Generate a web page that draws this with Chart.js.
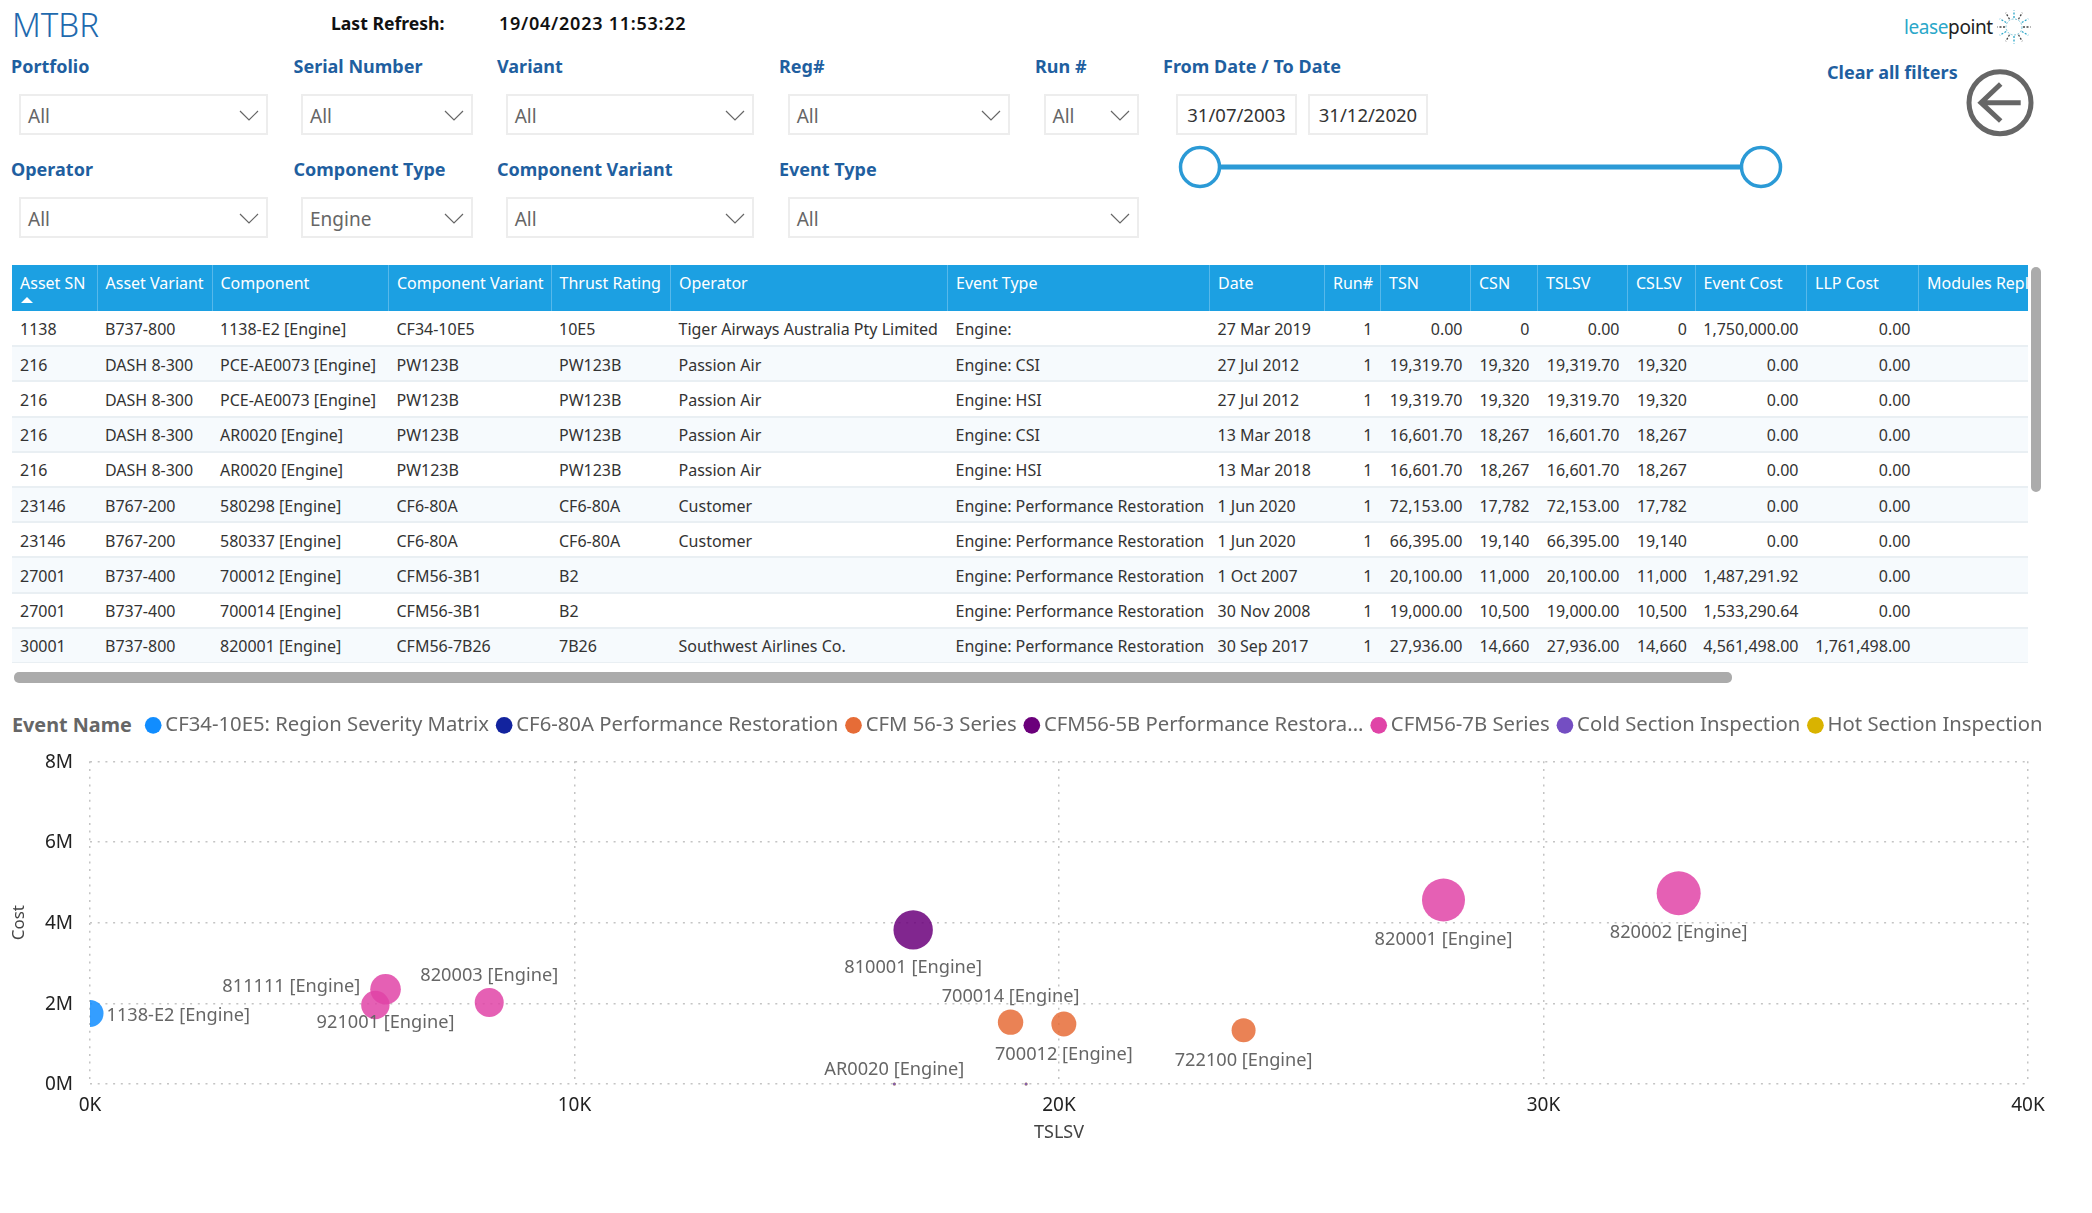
<!DOCTYPE html>
<html><head><meta charset="utf-8">
<style>
html,body{margin:0;padding:0;background:#fff;width:2092px;height:1213px;overflow:hidden;font-family:"Noto Sans",sans-serif}
.a{position:absolute;white-space:nowrap}
.lab{font-weight:700;font-size:18px;color:#1F5FA0;line-height:24px;transform:translateY(-12px)}
.box{box-sizing:border-box;border:2px solid #EDEDED;background:#fff;color:#666;font-size:19px;line-height:40px;padding-left:7px}
.box svg{position:absolute;right:7px;top:14px}
.wrap{position:absolute;left:12px;top:265px;width:2016px;height:398px;overflow:hidden}
table{border-collapse:collapse;table-layout:fixed;position:absolute;left:0;top:0;width:2026px;font-size:16px;color:#333}
th{background:#1CA0E2;color:#fff;font-weight:400;height:46px;box-sizing:border-box;padding:0 8px 10px;text-align:left;border-right:1px solid #57B8EA;overflow:hidden;white-space:nowrap}
th.r{text-align:right;padding-right:10px}
td{box-sizing:border-box;padding:2px 8px 0;height:35.2px;border-bottom:2px solid #E9EFF3;white-space:nowrap;overflow:hidden}
tr:nth-child(even) td{background:#F6FAFD}
td.r{text-align:right}
#cw{position:absolute;left:0;top:700px;width:2092px;height:513px}
canvas{display:block}
</style></head><body>
<div id="page"></div>
<div id="cw"><canvas id="c" width="2092" height="513" style="width:2092px;height:513px"></canvas></div>
<script src="https://cdn.jsdelivr.net/npm/chart.js@4"></script>
<script>
// --- chart data ---
const eventNames=["CF34-10E5: Region Severity Matrix","CF6-80A Performance Restoration","CFM 56-3 Series","CFM56-5B Performance Restora...","CFM56-7B Series","Cold Section Inspection","Hot Section Inspection"];
const eventColors=["#118DFF","#12239E","#E66C37","#6B007B","#E044A7","#744EC2","#D9B300"];
const tslsvCF34=[0];            const costCF34=[1750000];     const sizeCF34=[13.5];    const nameCF34=["1138-E2 [Engine]"];
const tslsvCF6=[72153,66395];   const costCF6=[0,0];          const sizeCF6=[1.5,1.5];  const nameCF6=["580298 [Engine]","580337 [Engine]"];
const tslsvCFM3=[19000,20100,23810]; const costCFM3=[1533290,1487292,1330000]; const sizeCFM3=[12.7,12.5,12]; const nameCFM3=["700014 [Engine]","700012 [Engine]","722100 [Engine]"];
const tslsvCFM5=[16990];        const costCFM5=[3820000];     const sizeCFM5=[19.7];    const nameCFM5=["810001 [Engine]"];
const tslsvCFM7=[6100,5890,8240,27936,32790]; const costCFM7=[2350000,1960000,2020000,4561498,4730000]; const sizeCFM7=[15.3,14.2,14.5,21.5,22];
const nameCFM7=["921001 [Engine]","811111 [Engine]","820003 [Engine]","820001 [Engine]","820002 [Engine]"];
const tslsvCold=[19319.7,16601.7]; const costCold=[0,0];      const sizeCold=[1.5,1.5]; const nameCold=["",""];
const tslsvHot=[19319.7,16601.7];  const costHot=[0,0];       const sizeHot=[1.5,1.5];  const nameHot=["","AR0020 [Engine]"];
const xTicks=[0,10000,20000,30000,40000];
const yTicks=[0,2000000,4000000,6000000,8000000];
// label placement by point name: side of the bubble the label sits on
const labelSide={"1138-E2 [Engine]":"right","811111 [Engine]":"left","921001 [Engine]":"below","820003 [Engine]":"above","810001 [Engine]":"below","700014 [Engine]":"above","700012 [Engine]":"below","722100 [Engine]":"below","820001 [Engine]":"below","820002 [Engine]":"below","AR0020 [Engine]":"above"};

// --- table data ---
const tableHead=["Asset SN","Asset Variant","Component","Component Variant","Thrust Rating","Operator","Event Type","Date","Run#","TSN","CSN","TSLSV","CSLSV","Event Cost","LLP Cost","Modules Replaced"];
const tableRows=[
["1138","B737-800","1138-E2 [Engine]","CF34-10E5","10E5","Tiger Airways Australia Pty Limited","Engine:","27 Mar 2019","1","0.00","0","0.00","0","1,750,000.00","0.00",""],
["216","DASH 8-300","PCE-AE0073 [Engine]","PW123B","PW123B","Passion Air","Engine: CSI","27 Jul 2012","1","19,319.70","19,320","19,319.70","19,320","0.00","0.00",""],
["216","DASH 8-300","PCE-AE0073 [Engine]","PW123B","PW123B","Passion Air","Engine: HSI","27 Jul 2012","1","19,319.70","19,320","19,319.70","19,320","0.00","0.00",""],
["216","DASH 8-300","AR0020 [Engine]","PW123B","PW123B","Passion Air","Engine: CSI","13 Mar 2018","1","16,601.70","18,267","16,601.70","18,267","0.00","0.00",""],
["216","DASH 8-300","AR0020 [Engine]","PW123B","PW123B","Passion Air","Engine: HSI","13 Mar 2018","1","16,601.70","18,267","16,601.70","18,267","0.00","0.00",""],
["23146","B767-200","580298 [Engine]","CF6-80A","CF6-80A","Customer","Engine: Performance Restoration","1 Jun 2020","1","72,153.00","17,782","72,153.00","17,782","0.00","0.00",""],
["23146","B767-200","580337 [Engine]","CF6-80A","CF6-80A","Customer","Engine: Performance Restoration","1 Jun 2020","1","66,395.00","19,140","66,395.00","19,140","0.00","0.00",""],
["27001","B737-400","700012 [Engine]","CFM56-3B1","B2","","Engine: Performance Restoration","1 Oct 2007","1","20,100.00","11,000","20,100.00","11,000","1,487,291.92","0.00",""],
["27001","B737-400","700014 [Engine]","CFM56-3B1","B2","","Engine: Performance Restoration","30 Nov 2008","1","19,000.00","10,500","19,000.00","10,500","1,533,290.64","0.00",""],
["30001","B737-800","820001 [Engine]","CFM56-7B26","7B26","Southwest Airlines Co.","Engine: Performance Restoration","30 Sep 2017","1","27,936.00","14,660","27,936.00","14,660","4,561,498.00","1,761,498.00",""]
];
const colWidths=[85,115,176.5,162.5,119.5,277,262,115,56,90,67,90,67.5,111.5,112,120];
const rightCols=[8,9,10,11,12,13,14];
const filterRow1=[["Portfolio",11,19,249,"All"],["Serial Number",293.5,301,172,"All"],["Variant",497,505.7,248,"All"],["Reg#",779,787.7,222,"All"],["Run #",1035,1043.5,95,"All"]];
const filterRow2=[["Operator",11,19,249,"All"],["Component Type",293.5,301,172,"Engine"],["Component Variant",497,505.7,248,"All"],["Event Type",779,787.7,351,"All"]];

// --- page furniture ---
const page=document.getElementById('page');
function add(html){page.insertAdjacentHTML('beforeend',html);}
const chev='<svg width="20" height="11" viewBox="0 0 20 11"><path d="M1 1l9 9 9-9" fill="none" stroke="#666" stroke-width="1.2"/></svg>';
add('<div class="a" style="left:12px;top:2px;font-size:33px;font-weight:300;color:#1F6AAE;line-height:46px">MTBR</div>');
add('<div class="a" style="left:331px;top:11px;font-size:17.6px;font-weight:700;color:#111;line-height:24px">Last Refresh:</div>');
add('<div class="a" style="left:499px;top:11px;font-size:18px;font-weight:600;color:#111;line-height:24px;letter-spacing:.75px">19/04/2023 11:53:22</div>');
function filters(row,labY,boxY){row.forEach(f=>{
 add(`<div class="a lab" style="left:${f[1]}px;top:${labY}px">${f[0]}</div>`);
 add(`<div class="a box" style="left:${f[2]}px;top:${boxY}px;width:${f[3]}px;height:41px">${f[4]}${chev}</div>`);});}
filters(filterRow1,66,94);filters(filterRow2,169,197);
add('<div class="a lab" style="left:1163px;top:66px">From Date / To Date</div>');
add('<div class="a box" style="left:1176px;top:94px;width:121px;height:41px;padding:0;text-align:center;color:#333;line-height:38px;font-size:18.5px">31/07/2003</div>');
add('<div class="a box" style="left:1308px;top:94px;width:120px;height:41px;padding:0;text-align:center;color:#333;line-height:38px;font-size:18.5px">31/12/2020</div>');
add(`<svg class="a" style="left:1170px;top:140px" width="620" height="54"><line x1="30" y1="27" x2="591" y2="27" stroke="#2B9AD6" stroke-width="5"/><circle cx="30" cy="27" r="19.5" fill="#fff" stroke="#2B9AD6" stroke-width="3.5"/><circle cx="591" cy="27" r="19.5" fill="#fff" stroke="#2B9AD6" stroke-width="3.5"/></svg>`);
add('<div class="a lab" style="left:1827px;top:72px">Clear all filters</div>');
add(`<svg class="a" style="left:1960px;top:62px" width="80" height="80"><circle cx="40" cy="40.7" r="31" fill="none" stroke="#666" stroke-width="5"/><path d="M60.7 40.7H21M40.7 22L21 40.7 40.7 59" fill="none" stroke="#666" stroke-width="5"/></svg>`);
add('<div class="a" style="left:1904px;top:14px;font-size:19px;line-height:26px;letter-spacing:-.4px"><span style="color:#2AA7C9">lease</span><span style="color:#222">point</span></div>');
let rays='';for(let i=0;i<12;i++){const t=i*Math.PI/6;rays+=`<line x1="${17+9*Math.cos(t)}" y1="${17+9*Math.sin(t)}" x2="${17+16.5*Math.cos(t)}" y2="${17+16.5*Math.sin(t)}" stroke="${i%2?'#2AA7C9':'#444'}" stroke-width="1.3" stroke-dasharray="2 1.5"/>`;}
add(`<svg class="a" style="left:1997px;top:10px" width="34" height="34">${rays}<circle cx="17" cy="17" r="8" fill="none" stroke="#7CC4D8" stroke-width="1" stroke-dasharray="2 1.5"/></svg>`);
// table
let t='<div class="wrap"><table><colgroup>'+colWidths.map(w=>`<col style="width:${w}px">`).join('')+'</colgroup><thead><tr>';
tableHead.forEach((h,i)=>{t+=`<th class="${i==8?'r':''}">${h}</th>`;});
t+='</tr></thead><tbody>';
tableRows.forEach(r=>{t+='<tr>'+r.map((c,i)=>`<td class="${rightCols.includes(i)?'r':''}">${c}</td>`).join('')+'</tr>';});
t+='</tbody></table></div>';add(t);
add('<svg class="a" style="left:20px;top:296px" width="16" height="8"><path d="M1 7L7 1l6 6z" fill="#fff"/></svg>');
add('<div class="a" style="left:14px;top:672px;width:1718px;height:11px;background:#ABABAB;border-radius:5px"></div>');
add('<div class="a" style="left:2031px;top:267px;width:10px;height:225px;background:#ABABAB;border-radius:5px"></div>');
add('<div class="a" style="left:12px;top:711px;font-size:19.8px;font-weight:700;color:#666;line-height:28px">Event Name</div>');

// --- chart ---
const seriesX=[tslsvCF34,tslsvCF6,tslsvCFM3,tslsvCFM5,tslsvCFM7,tslsvCold,tslsvHot];
const seriesY=[costCF34,costCF6,costCFM3,costCFM5,costCFM7,costCold,costHot];
const seriesR=[sizeCF34,sizeCF6,sizeCFM3,sizeCFM5,sizeCFM7,sizeCold,sizeHot];
const seriesN=[nameCF34,nameCF6,nameCFM3,nameCFM5,nameCFM7,nameCold,nameHot];
const alpha=c=>c+'D9';
const datasets=eventNames.map((n,i)=>({label:n,backgroundColor:alpha(eventColors[i]),borderWidth:0,
  clip:{left:0,top:0,right:0,bottom:4},
  data:seriesX[i].map((x,k)=>({x,y:seriesY[i][k],r:seriesR[i][k],n:seriesN[i][k]}))}));
const FONT='"Noto Sans",sans-serif';
const labelsPlugin={id:'pointLabels',
 beforeUpdate(chart){const lg=chart.legend;if(lg&&!lg._patched){lg._patched=true;const f=lg.fit;lg.fit=function(){f.call(this);this.height=61.3;};}},
 afterLayout(chart){chart.legend.left=138;chart.legend.right=2092;chart.legend.top=2;},
 afterDatasetsDraw(chart){const c=chart.ctx;c.save();c.font='18.2px '+FONT;c.fillStyle='#666';c.textBaseline='middle';
  chart.data.datasets.forEach((ds,di)=>{chart.getDatasetMeta(di).data.forEach((el,k)=>{const d=ds.data[k];const side=labelSide[d.n];if(!side)return;
    let x=el.x,y=el.y;
    if(side==='below'){c.textAlign='center';y+=d.r+18;}
    else if(side==='above'){c.textAlign='center';y-=d.r+12.5;}
    else if(side==='left'){c.textAlign='right';x-=d.r+1;y-=18;}
    else{c.textAlign='left';x+=d.r+3;y+=2;}
    c.fillText(d.n,x,y);});});c.restore();}
};
const dotGrid={color:'#C4C4C4',lineWidth:1.5,drawTicks:false};
const dotBorder={display:false,dash:[2,5.7]};
new Chart(document.getElementById('c'),{type:'bubble',data:{datasets},plugins:[labelsPlugin],
 options:{responsive:false,animation:false,events:[],devicePixelRatio:1,
  layout:{padding:{left:0,right:64,top:0,bottom:0}},
  plugins:{tooltip:{enabled:false},
   legend:{position:'top',align:'start',labels:{usePointStyle:true,pointStyle:'circle',boxWidth:4,boxHeight:11.8,padding:13.2,color:'#666',font:{family:FONT,size:20.3},
     generateLabels(chart){return eventNames.map((text,i)=>({text,fillStyle:eventColors[i],strokeStyle:eventColors[i],lineWidth:0,pointStyle:'circle',hidden:false,datasetIndex:i,fontColor:'#666'}));}}}},
  scales:{
   x:{type:'linear',min:0,max:40000,afterBuildTicks(a){a.ticks=xTicks.map(value=>({value}));},
      afterFit(s){s.height=129;},
      grid:dotGrid,border:dotBorder,
      ticks:{padding:10,color:'#222',font:{family:FONT,size:19},maxRotation:0,callback:v=>(v/1000)+'K'},
      title:{display:true,text:'TSLSV',color:'#444',font:{family:FONT,size:18},padding:{top:6,bottom:69}}},
   y:{type:'linear',min:0,max:8000000,afterBuildTicks(a){a.ticks=yTicks.map(value=>({value}));},
      afterFit(s){s.width=90;},
      grid:dotGrid,border:dotBorder,
      ticks:{padding:17,labelOffset:1,color:'#222',font:{family:FONT,size:19},callback:v=>(v/1000000)+'M'},
      title:{display:true,text:'Cost',color:'#444',font:{family:FONT,size:17},padding:{top:9,bottom:0}}}
  }}});
</script>
</body></html>
